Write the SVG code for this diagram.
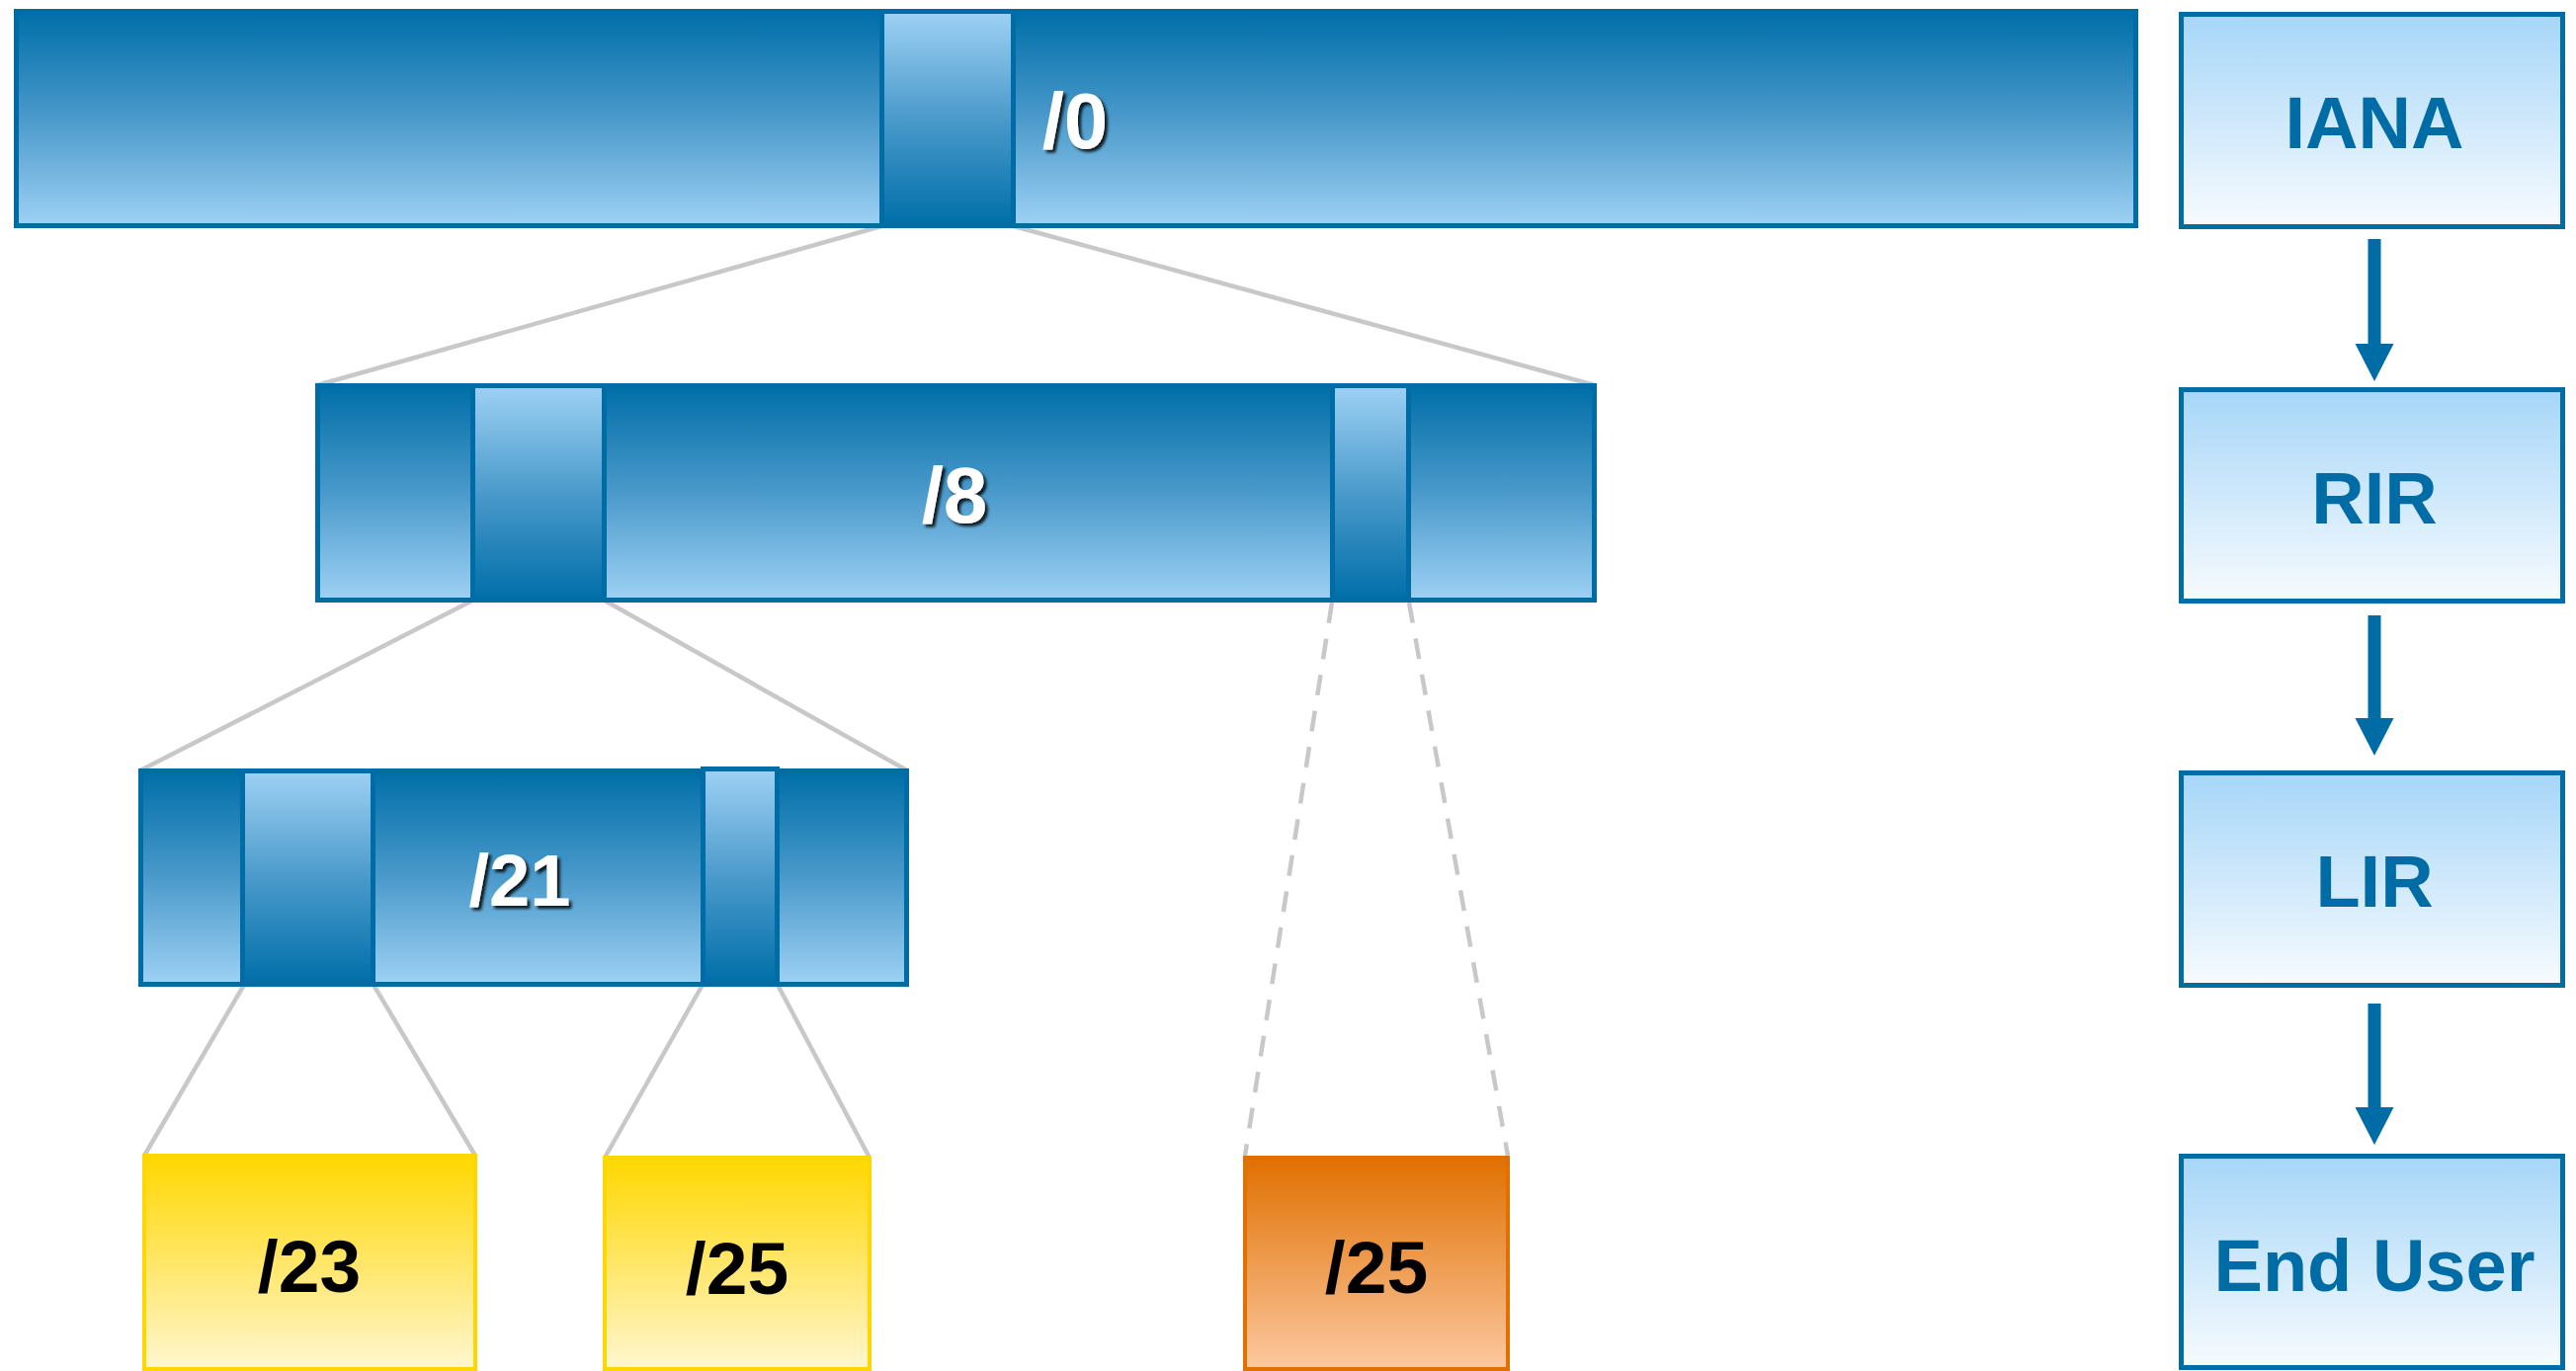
<svg xmlns="http://www.w3.org/2000/svg" width="2607" height="1388" viewBox="0 0 2607 1388">
<style>
.bar{fill:url(#gBar);stroke:#006ca6;stroke-width:5}
.sub{fill:url(#gSub);stroke:#006ca6;stroke-width:5}
.role{fill:url(#gRole);stroke:#006ca6;stroke-width:5}
.yel{fill:url(#gYel);stroke:#ffd700;stroke-width:4}
.org{fill:url(#gOrg);stroke:#e07000;stroke-width:4}
.wt{font-family:"Liberation Sans",Arial,sans-serif;font-weight:bold;fill:#ffffff;text-anchor:middle;filter:url(#shadow)}
.bt{font-family:"Liberation Sans",Arial,sans-serif;font-weight:bold;fill:#000000;text-anchor:middle;font-size:75px}
.rt{font-family:"Liberation Sans",Arial,sans-serif;font-weight:bold;fill:#006ca6;text-anchor:middle;font-size:74px}
.con{stroke:#c8c8c8;stroke-width:4.5;fill:none}
.dash{stroke-dasharray:21 16}
.arr{stroke:#006ca6;stroke-width:13;fill:none;marker-end:url(#head)}
</style>
<defs>
<linearGradient id="gBar" x1="0" y1="0" x2="0" y2="1">
<stop offset="0" stop-color="#006ea8"/>
<stop offset="0.5" stop-color="#4a9acb"/>
<stop offset="1" stop-color="#9ed1f4"/>
</linearGradient>
<linearGradient id="gSub" x1="0" y1="0" x2="0" y2="1">
<stop offset="0" stop-color="#9ed1f4"/>
<stop offset="0.5" stop-color="#4a9acb"/>
<stop offset="1" stop-color="#006ea8"/>
</linearGradient>
<linearGradient id="gRole" x1="0" y1="0" x2="0" y2="1">
<stop offset="0" stop-color="#a6d6f8"/>
<stop offset="1" stop-color="#f7fbfe"/>
</linearGradient>
<linearGradient id="gYel" x1="0" y1="0" x2="0" y2="1">
<stop offset="0" stop-color="#ffd700"/>
<stop offset="1" stop-color="#fff6d0"/>
</linearGradient>
<linearGradient id="gOrg" x1="0" y1="0" x2="0" y2="1">
<stop offset="0" stop-color="#e07000"/>
<stop offset="1" stop-color="#fcc8a0"/>
</linearGradient>
<filter id="shadow" x="-20%" y="-20%" width="150%" height="150%">
<feDropShadow dx="3" dy="3" stdDeviation="1.5" flood-color="#000000" flood-opacity="0.85"/>
</filter>
<marker id="head" markerUnits="userSpaceOnUse" markerWidth="40" markerHeight="40" refX="2" refY="19.5" orient="auto">
<path d="M0,0 L38,19.5 L0,39 z" fill="#006ca6"/>
</marker>
</defs>

<g id="connectors">
<line class="con" x1="892" y1="229" x2="321" y2="390"/>
<line class="con" x1="1026" y1="229" x2="1614" y2="390"/>
<line class="con" x1="478" y1="608" x2="142" y2="780"/>
<line class="con" x1="612" y1="608" x2="918" y2="780"/>
<line class="con dash" x1="1348" y1="610" x2="1260" y2="1170"/>
<line class="con dash" x1="1426" y1="610" x2="1526" y2="1170"/>
<line class="con" x1="247" y1="997" x2="146" y2="1170"/>
<line class="con" x1="378" y1="997" x2="481" y2="1170"/>
<line class="con" x1="711" y1="997" x2="612" y2="1172"/>
<line class="con" x1="787" y1="997" x2="880" y2="1172"/>
<line class="arr" x1="2403" y1="242" x2="2403" y2="350"/>
<line class="arr" x1="2403" y1="623" x2="2403" y2="729"/>
<line class="arr" x1="2403" y1="1016" x2="2403" y2="1123"/>
</g>

<g id="block0">
<rect class="bar" x="16.5" y="11.5" width="2145" height="217"/>
<rect class="sub" x="892.5" y="11.5" width="133" height="217"/>
<text class="wt" x="1088" y="150" font-size="80">/0</text>
</g>

<g id="block8">
<rect class="bar" x="321.5" y="390.5" width="1292" height="217"/>
<rect class="sub" x="478.5" y="390.5" width="133" height="217"/>
<rect class="sub" x="1348.5" y="390.5" width="77" height="217"/>
<text class="wt" x="966" y="529" font-size="80">/8</text>
</g>

<g id="block21">
<rect class="bar" x="142.5" y="780.5" width="775" height="216"/>
<rect class="sub" x="245.5" y="780.5" width="132" height="216"/>
<rect class="sub" x="711.5" y="778.5" width="75" height="218"/>
<text class="wt" x="526" y="917" font-size="74">/21</text>
</g>

<g id="block23">
<rect class="yel" x="146" y="1170" width="335" height="216"/>
<text class="bt" x="313" y="1308">/23</text>
</g>

<g id="block25a">
<rect class="yel" x="612" y="1172" width="268" height="214"/>
<text class="bt" x="746" y="1310">/25</text>
</g>

<g id="block25b">
<rect class="org" x="1260" y="1172" width="266" height="214"/>
<text class="bt" x="1393" y="1309">/25</text>
</g>

<g id="iana">
<rect class="role" x="2207.5" y="14.5" width="386" height="215"/>
<text class="rt" x="2403" y="150">IANA</text>
</g>
<g id="rir">
<rect class="role" x="2207.5" y="394.5" width="386" height="214"/>
<text class="rt" x="2403" y="530">RIR</text>
</g>
<g id="lir">
<rect class="role" x="2207.5" y="782.5" width="386" height="215"/>
<text class="rt" x="2403" y="918">LIR</text>
</g>
<g id="enduser">
<rect class="role" x="2207.5" y="1170.5" width="386" height="214"/>
<text class="rt" x="2403" y="1307">End User</text>
</g>
</svg>
